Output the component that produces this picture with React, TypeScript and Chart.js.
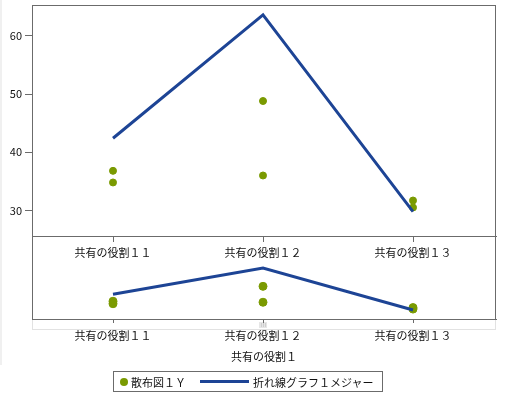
import { useEffect, useRef } from "react";
import { Chart, registerables } from "chart.js";

Chart.register(...registerables);

const categories = ["共有の役割１１", "共有の役割１２", "共有の役割１３"];
const lineValues = [42.4, 63.6, 29.8];
const scatterCategory = [0, 0, 1, 1, 2, 2];
const scatterValues = [36.8, 34.8, 48.8, 36.0, 31.7, 30.5];
const yTicks = [30, 40, 50, 60];

const FONT = '"Noto Sans CJK JP", "Noto Sans", sans-serif';
const BLUE = "#1d4495";
const GREEN = "#7a9a01";
const FRAME = "#6b6b6b";

const linePoints = lineValues.map((v, i) => ({ x: i, y: v }));
const scatterPoints = scatterValues.map((v, i) => ({ x: scatterCategory[i], y: v }));

function makeDatasets(radius: number) {
  return [
    {
      type: "line" as const,
      label: "折れ線グラフ１メジャー",
      data: linePoints,
      borderColor: BLUE,
      borderWidth: 3,
      pointRadius: 0,
      tension: 0,
      order: 1,
    },
    {
      type: "scatter" as const,
      label: "散布図１Ｙ",
      data: scatterPoints,
      backgroundColor: GREEN,
      borderColor: GREEN,
      pointRadius: radius,
      order: 2,
    },
  ];
}

function xScale(tickLength: number, padding: number, height: number, title?: string) {
  return {
    type: "linear" as const,
    min: -0.54,
    max: 2.5533,
    afterBuildTicks: (s: any) => {
      s.ticks = categories.map((_, i) => ({ value: i }));
    },
    afterFit: (s: any) => {
      s.height = height;
      s.paddingLeft = 0;
      s.paddingRight = 0;
    },
    ticks: {
      color: "#111",
      padding,
      maxRotation: 0,
      autoSkip: false,
      font: { family: FONT, size: 11 },
      callback: (v: any) => categories[v as number],
    },
    grid: { drawOnChartArea: false, tickLength, color: FRAME },
    border: { color: FRAME },
    title: title
      ? { display: true, text: title, color: "#111", font: { family: FONT, size: 11 }, padding: { top: 0, bottom: 2 } }
      : { display: false },
  };
}

// top panel: full frame around the plot
const framePlugin = {
  id: "frame",
  afterDraw(chart: any) {
    const { ctx, chartArea } = chart;
    ctx.save();
    ctx.strokeStyle = FRAME;
    ctx.lineWidth = 1;
    ctx.strokeRect(chartArea.left + 0.5, chartArea.top + 0.5, chartArea.right - chartArea.left - 1, chartArea.bottom - chartArea.top);
    ctx.restore();
  },
};

// overview panel: box from canvas top, plus the scroll track below
const overviewPlugin = {
  id: "overviewFrame",
  beforeDraw(chart: any) {
    const { ctx, chartArea } = chart;
    const l = chartArea.left;
    const w = chartArea.right - chartArea.left;
    ctx.save();
    ctx.strokeStyle = "#e2e2e2";
    ctx.lineWidth = 1;
    ctx.strokeRect(l + 0.5, chartArea.bottom + 0.5, w - 1, 10);
    const hx = chart.scales.x.getPixelForValue(1);
    ctx.fillStyle = "#e6e6e6";
    ctx.fillRect(hx - 4, chartArea.bottom + 3, 8, 6);
    ctx.fillStyle = "#cfcfcf";
    for (let k = -2; k <= 2; k += 2) ctx.fillRect(hx + k, chartArea.bottom + 4, 1, 4);
    ctx.restore();
  },
  afterDraw(chart: any) {
    const { ctx, chartArea } = chart;
    ctx.save();
    ctx.strokeStyle = FRAME;
    ctx.lineWidth = 1;
    ctx.strokeRect(chartArea.left + 0.5, 0.5, chartArea.right - chartArea.left - 1, chartArea.bottom);
    ctx.restore();
  },
};

function TopPanel() {
  const ref = useRef<HTMLCanvasElement>(null);
  useEffect(() => {
    if (!ref.current) return;
    const chart = new Chart(ref.current, {
      type: "line",
      data: { datasets: makeDatasets(3.5) as any },
      options: {
        responsive: false,
        animation: false,
        layout: { padding: { top: 3, right: 17, left: 0, bottom: 0 } },
        plugins: { legend: { display: false }, tooltip: { enabled: false } },
        scales: {
          x: xScale(6, 4, 32) as any,
          y: {
            min: 25.6,
            max: 65.3,
            afterBuildTicks: (s: any) => {
              s.ticks = yTicks.map((v) => ({ value: v }));
            },
            afterFit: (s: any) => {
              s.width = 32;
              s.paddingTop = 0;
              s.paddingBottom = 0;
            },
            ticks: { color: "#111", padding: 3, font: { family: FONT, size: 11 } },
            grid: { drawOnChartArea: false, tickLength: 7, color: FRAME },
            border: { color: FRAME },
          },
        },
      },
      plugins: [framePlugin],
    });
    return () => chart.destroy();
  }, []);
  return (
    <canvas
      ref={ref}
      width={513}
      height={268}
      style={{ position: "absolute", left: 0, top: 0, width: 513, height: 268 }}
    />
  );
}

function OverviewPanel() {
  const ref = useRef<HTMLCanvasElement>(null);
  useEffect(() => {
    if (!ref.current) return;
    const chart = new Chart(ref.current, {
      type: "line",
      data: { datasets: makeDatasets(4) as any },
      options: {
        responsive: false,
        animation: false,
        layout: { padding: { top: 26, right: 17, left: 32, bottom: 40 } },
        plugins: { legend: { display: false }, tooltip: { enabled: false } },
        scales: {
          x: xScale(4, 6, 46, "共有の役割１") as any,
          y: { display: false, min: 22.5, max: 68.4 },
        },
      },
      plugins: [overviewPlugin],
    });
    return () => chart.destroy();
  }, []);
  return (
    <canvas
      ref={ref}
      width={513}
      height={169}
      style={{ position: "absolute", left: 0, top: 236, width: 513, height: 169 }}
    />
  );
}

export default function App() {
  return (
    <div style={{ position: "fixed", left: 0, top: 0, width: 513, height: 405, background: "#fff", overflow: "hidden" }}>
      <div style={{ position: "absolute", left: 0, top: 0, width: 2, height: 365, background: "#f0f0f0" }} />
      <OverviewPanel />
      <TopPanel />
      <div
        style={{
          position: "absolute",
          left: 113,
          top: 371,
          width: 270,
          height: 21,
          boxSizing: "border-box",
          border: `1px solid ${FRAME}`,
          display: "flex",
          alignItems: "center",
          fontFamily: FONT,
          fontSize: 11,
          color: "#111",
          whiteSpace: "nowrap",
        }}
      >
        <span style={{ display: "inline-block", width: 8, height: 8, borderRadius: 4, background: GREEN, marginLeft: 6 }} />
        <span style={{ marginLeft: 3 }}>散布図１Ｙ</span>
        <span style={{ display: "inline-block", width: 49, height: 3, background: BLUE, marginLeft: 14 }} />
        <span style={{ marginLeft: 4 }}>折れ線グラフ１メジャー</span>
      </div>
    </div>
  );
}
